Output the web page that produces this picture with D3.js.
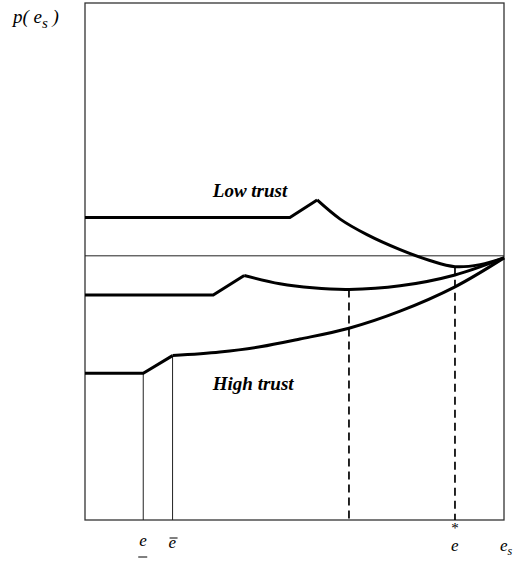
<!DOCTYPE html>
<html>
<head>
<meta charset="utf-8">
<script src="https://cdn.jsdelivr.net/npm/d3@7"></script>
<style>
body { margin: 0; background: #fff; }
svg text { font-family: "Liberation Serif", "Times New Roman", serif; fill: #000; }
</style>
</head>
<body>
<div id="contents"></div>
<script>
// values: x = e_s on 0..100, y = p(e_s) on 0..100
var lowTrustFlat = [[0, 58.5], [48.9, 58.5], [55.4, 61.9]];
var lowTrustCurve = [[55.4, 61.9], [60.9, 58.2], [67.3, 55.2], [75.2, 52.3], [82.3, 50.2], [88.3, 49.0], [94.3, 49.4], [100, 50.7]];

var midTrustFlat = [[0, 43.5], [30.6, 43.5], [38.0, 47.3]];
var midTrustCurve = [[38.0, 47.3], [46.5, 45.7], [54.3, 44.9], [63.0, 44.6], [75.2, 45.3], [88.3, 47.4], [100, 50.7]];

var highTrustFlat = [[0, 28.4], [13.9, 28.4], [20.9, 31.8]];
var highTrustCurve = [[20.9, 31.8], [32.2, 32.5], [41.8, 33.5], [51.3, 35.0], [63.0, 37.1], [75.2, 40.4], [88.3, 45.1], [100, 50.7]];

var refLevel = 51.1;
var thinDrops = [[13.9, 28.4], [20.9, 31.8]];
var dashedDrops = [[63.0, 44.6], [88.3, 49.0]];

var tickValues = [13.9, 20.9, 88.3, 100];
var tickKinds = ["under", "over", "star", "sub"];

var Chart = function() {
	this.width = 514;
	this.height = 566;
	this.svg = d3.select("#contents")
		.append("svg")
		.attr("width", this.width)
		.attr("height", this.height);
	this.x = d3.scaleLinear().domain([0, 100]).range([85, 504]);
	this.y = d3.scaleLinear().domain([0, 100]).range([520, 3]);
};

Chart.prototype.frame = function() {
	var x = this.x, y = this.y;
	this.svg.append("rect")
		.attr("x", x(0))
		.attr("y", y(100))
		.attr("width", x(100) - x(0))
		.attr("height", y(0) - y(100))
		.attr("fill", "none")
		.attr("stroke", "#333")
		.attr("stroke-width", 1.3);

	this.svg.append("line")
		.attr("x1", x(0)).attr("x2", x(100))
		.attr("y1", y(refLevel)).attr("y2", y(refLevel))
		.attr("stroke", "#222")
		.attr("stroke-width", 1);
};

Chart.prototype.drops = function() {
	var x = this.x, y = this.y;
	this.svg.selectAll("line.thin")
		.data(thinDrops)
		.enter()
		.append("line")
		.attr("class", "thin")
		.attr("x1", function(d) { return x(d[0]); })
		.attr("x2", function(d) { return x(d[0]); })
		.attr("y1", function(d) { return y(d[1]); })
		.attr("y2", y(0))
		.attr("stroke", "#222")
		.attr("stroke-width", 1);

	this.svg.selectAll("line.dash")
		.data(dashedDrops)
		.enter()
		.append("line")
		.attr("class", "dash")
		.attr("x1", function(d) { return x(d[0]); })
		.attr("x2", function(d) { return x(d[0]); })
		.attr("y1", function(d) { return y(d[1]); })
		.attr("y2", y(0))
		.attr("stroke", "#000")
		.attr("stroke-width", 1.7)
		.attr("stroke-dasharray", "8,5");
};

Chart.prototype.curves = function() {
	var x = this.x, y = this.y;
	var straight = d3.line()
		.x(function(d) { return x(d[0]); })
		.y(function(d) { return y(d[1]); });
	var smooth = d3.line()
		.curve(d3.curveCatmullRom.alpha(0.5))
		.x(function(d) { return x(d[0]); })
		.y(function(d) { return y(d[1]); });

	var svg = this.svg;
	[[lowTrustFlat, lowTrustCurve], [midTrustFlat, midTrustCurve], [highTrustFlat, highTrustCurve]]
		.forEach(function(s) {
			svg.append("path")
				.attr("d", straight(s[0]))
				.attr("fill", "none")
				.attr("stroke", "#000")
				.attr("stroke-width", 3)
				.attr("stroke-linejoin", "miter");
			svg.append("path")
				.attr("d", smooth(s[1]))
				.attr("fill", "none")
				.attr("stroke", "#000")
				.attr("stroke-width", 3);
		});
};

Chart.prototype.labels = function() {
	var x = this.x, y = this.y, svg = this.svg;

	svg.append("text")
		.attr("x", x(30.5))
		.attr("y", y(62.4))
		.attr("font-size", 19)
		.attr("font-weight", "bold")
		.attr("font-style", "italic")
		.text("Low trust");

	svg.append("text")
		.attr("x", x(30.5))
		.attr("y", y(25.1))
		.attr("font-size", 19)
		.attr("font-weight", "bold")
		.attr("font-style", "italic")
		.text("High trust");

	var p = svg.append("text")
		.attr("x", 13)
		.attr("y", 23)
		.attr("font-size", 19)
		.attr("font-style", "italic");
	p.append("tspan").text("p( e");
	p.append("tspan").attr("dy", 5).attr("font-size", 15).text("s");
	p.append("tspan").attr("dy", -5).text(" )");

	var baseOf = { under: 546, over: 548, star: 551, sub: 551 };
	tickValues.forEach(function(v, i) {
		var kind = tickKinds[i];
		var base = baseOf[kind];
		var cx = x(v);
		var t = svg.append("text")
			.attr("y", base)
			.attr("font-size", 17)
			.attr("font-style", "italic");
		if (kind == "sub") {
			t.attr("x", cx - 4);
			t.append("tspan").text("e");
			t.append("tspan").attr("dy", 4).attr("font-size", 12).text("s");
			return;
		}
		t.attr("x", cx - 4).text("e");
		if (kind == "star")
			svg.append("text")
				.attr("x", cx)
				.attr("y", base - 18)
				.attr("text-anchor", "middle")
				.attr("font-size", 15)
				.text("*");
		if (kind == "under")
			svg.append("line")
				.attr("x1", cx - 5).attr("x2", cx + 4)
				.attr("y1", base + 11).attr("y2", base + 11)
				.attr("stroke", "#000").attr("stroke-width", 1);
		if (kind == "over")
			svg.append("line")
				.attr("x1", cx - 3).attr("x2", cx + 5)
				.attr("y1", base - 10).attr("y2", base - 10)
				.attr("stroke", "#000").attr("stroke-width", 1);
	});
};

var chart = new Chart();
chart.frame();
chart.drops();
chart.curves();
chart.labels();
</script>
</body>
</html>
